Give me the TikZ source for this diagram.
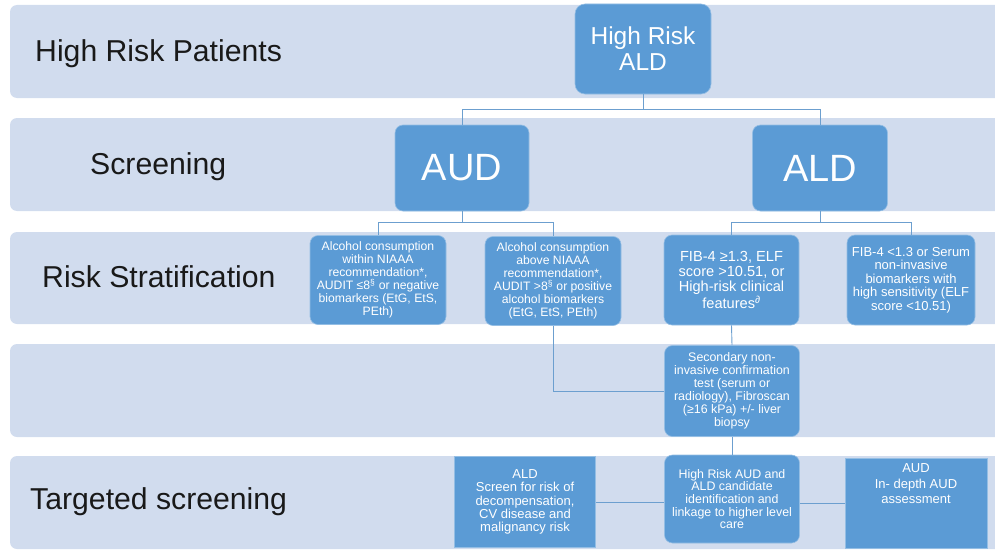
\documentclass[tikz,border=0pt]{standalone}
\usepackage{fontspec}
\setmainfont{Liberation Sans}
\usetikzlibrary{positioning, calc}
\definecolor{boxblue}{HTML}{5B9BD5}
\definecolor{bandblue}{HTML}{D1DCEE}
\definecolor{linkblue}{HTML}{6C9FCF}
\tikzstyle{Link} = [
%connector between boxes:
draw=linkblue, line width=0.9pt
]

\begin{document}
\begin{tikzpicture}[x=1pt, y=-1pt,
		band/.style = {fill=bandblue, rounded corners=7pt},
		rowlabel/.style = {anchor=base west, inner sep=0pt, text=black!90, font=\fontsize{30.2}{35}\selectfont},
		roundbox/.style = {rectangle, rounded corners=8pt, fill=boxblue, draw=white!35!boxblue, line width=0.6pt, text=white, align=center, inner sep=1pt},
		flatbox/.style = {rectangle, fill=boxblue, draw=white!35!boxblue, line width=0.6pt, text=white, align=center, inner sep=1pt},
		smalltext/.style = {font=\fontsize{12.2}{13}\selectfont},
	]
		\useasboundingbox (0,0) rectangle (995,551);
		\clip (0,0) rectangle (995,551);

		% row bands
		\foreach \top/\bot in {5/98, 118/211, 232/324, 344/437, 456/549}
			\fill[band] (10,\top) rectangle (1002,\bot);

		\node[rowlabel] (LHR) at (35,61) {High Risk Patients};
		\node[rowlabel] (LSC) at (90,174) {Screening};
		\node[rowlabel] (LRS) at (42,287) {Risk Stratification};
		\node[rowlabel] (LTS) at (30,509) {Targeted screening};

		\node[roundbox, minimum width=136pt, minimum height=90pt, rounded corners=10pt, font=\fontsize{24.5}{26}\selectfont] (HR) at (643,49) {High Risk\\ALD};

		\node[roundbox, minimum width=134pt, minimum height=86pt, font=\fontsize{38}{40}\selectfont] (AUD) at (462,168) {AUD};
		\node[roundbox, minimum width=135pt, minimum height=86pt, font=\fontsize{38}{40}\selectfont] (ALD) at (820,168) {ALD};

		\node[roundbox, smalltext, minimum width=136pt, minimum height=89pt] (RS1) at (378,280) {Alcohol consumption\\within NIAAA\\recommendation*,\\AUDIT ≤8\textsuperscript{§} or negative\\biomarkers (EtG, EtS,\\PEth)};
		\node[roundbox, smalltext, minimum width=136pt, minimum height=89pt] (RS2) at (553,281) {Alcohol consumption\\above NIAAA\\recommendation*,\\AUDIT >8\textsuperscript{§} or positive\\alcohol biomarkers\\(EtG, EtS, PEth)};
		\node[roundbox, minimum width=135pt, minimum height=90pt, font=\fontsize{14.6}{15}\selectfont] (RS3) at (731.5,280) {FIB-4 ≥1.3, ELF\\score >10.51, or\\High-risk clinical\\features\textsuperscript{∂}};
		\node[roundbox, minimum width=128pt, minimum height=90pt, font=\fontsize{13}{13.5}\selectfont] (RS4) at (911,280) {FIB-4 <1.3 or Serum\\non-invasive\\biomarkers  with\\high sensitivity  (ELF\\score <10.51)};

		\node[roundbox, minimum width=135pt, minimum height=91pt, font=\fontsize{12.4}{13}\selectfont] (SEC) at (732,391) {Secondary non-\\invasive confirmation\\test (serum or\\radiology), Fibroscan\\(≥16 kPa) +/- liver\\biopsy};

		\node[flatbox, minimum width=141pt, minimum height=91pt, font=\fontsize{13}{13.3}\selectfont] (ALD5) at (525,502) {ALD\\Screen for risk of\\decompensation,\\CV disease  and\\malignancy  risk};
		\node[roundbox, minimum width=135pt, minimum height=88pt, font=\fontsize{12.4}{12.7}\selectfont] (HRAUD) at (732,499) {High Risk AUD and\\ALD candidate\\identification and\\linkage to higher level\\care};
		\node[flatbox, minimum width=142pt, minimum height=90pt] (AUD5) at (916,503) {};
		\node[anchor=north, inner sep=0pt, text=white, align=center, font=\fontsize{13}{15.5}\selectfont] (AUD5txt) at ([yshift=-6pt]AUD5.north) {AUD\\In- depth  AUD\\assessment};

		\draw[Link] (HR.south) -- ++(0,15) -| (AUD.north);
		\draw[Link] (HR.south) -- ++(0,15) -| (ALD.north);
		\draw[Link] (AUD.south) -- ++(0,11) -| (RS1.north);
		\draw[Link] (AUD.south) -- ++(0,11) -| (RS2.north);
		\draw[Link] (ALD.south) -- ++(0,11) -| (RS3.north);
		\draw[Link] (ALD.south) -- ++(0,11) -| (RS4.north);
		\draw[Link] (RS2.south) |- (SEC.west);
		\draw[Link] (RS3.south) -- (SEC.north);
		\draw[Link] (SEC.south) -- (HRAUD.north);
		\draw[Link] (ALD5.east) -- (ALD5.east -| HRAUD.west);
		\draw[Link] (AUD5.west -| HRAUD.east) -- (AUD5.west);

	\end{tikzpicture}
\end{document}
